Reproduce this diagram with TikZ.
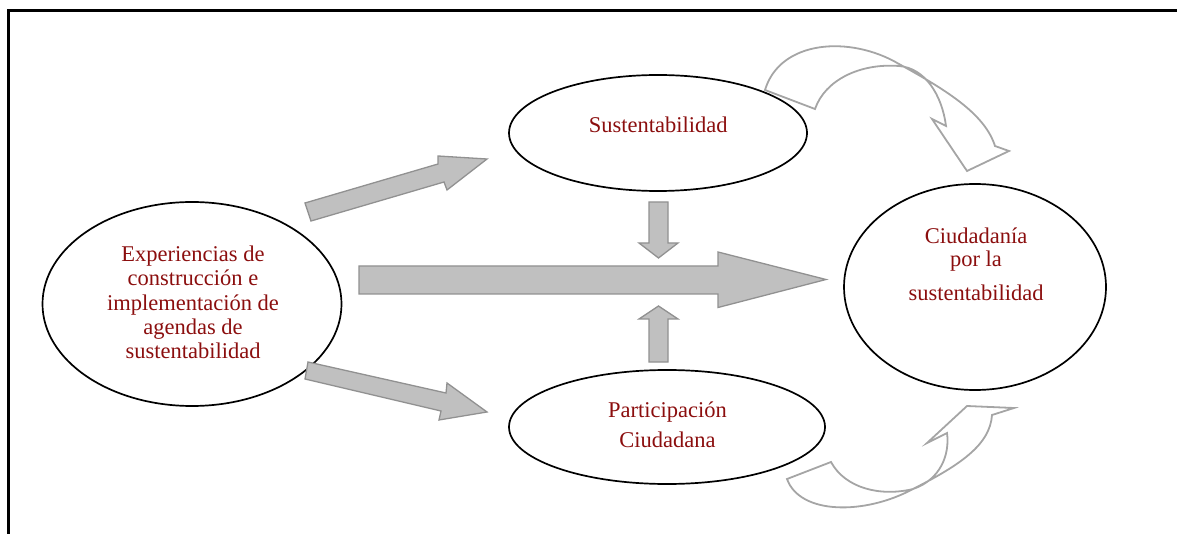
\documentclass[tikz,border=0pt]{standalone}
\usepackage{fontspec}
\setmainfont{Liberation Serif}
\usetikzlibrary{shapes.geometric}
\definecolor{txtred}{RGB}{139,14,14}
\definecolor{blockfill}{RGB}{192,192,192}
\definecolor{blockline}{RGB}{145,145,145}
\definecolor{curveline}{RGB}{165,165,165}
\begin{document}
\begin{tikzpicture}[x=1pt,y=-1pt,
  oval/.style={draw=black, line width=1.7pt, ellipse, inner sep=0pt},
  txt/.style={anchor=base, text=txtred, inner sep=0pt, font=\fontsize{22.5}{24}\selectfont},
  block/.style={fill=blockfill, draw=blockline, line width=1.3pt, line join=miter},
  bent/.style={draw=curveline, line width=1.8pt, line join=miter}]
\path[use as bounding box] (0,0) rectangle (1177,534);
% frame
\draw[line width=3pt, line join=miter] (8.5,540) -- (8.5,10.7) -- (1180,10.7);
% ellipses
\node[oval, minimum width=299pt, minimum height=204pt] (exp) at (192,304) {};
\node[oval, minimum width=298pt, minimum height=116pt] (sus) at (658,133) {};
\node[oval, minimum width=316pt, minimum height=114pt] (par) at (667,427) {};
\node[oval, minimum width=262pt, minimum height=206pt] (ciu) at (975,287) {};
% texts
\node[txt] (exp1) at (193,261.7) {Experiencias de};
\node[txt] (exp2) at (193,285.9) {construcción e};
\node[txt] (exp3) at (193,310.1) {implementación de};
\node[txt] (exp4) at (193,334.3) {agendas de};
\node[txt] (exp5) at (193,358.5) {sustentabilidad};
\node[txt] (sus1) at (658.3,132.3) {Sustentabilidad};
\node[txt] (par1) at (667.5,417) {Participación};
\node[txt] (par2) at (667.5,447) {Ciudadana};
\node[txt] (ciu1) at (976,243.3) {Ciudadanía};
\node[txt] (ciu2) at (976,266.7) {por la};
\node[txt] (ciu3) at (976,301) {sustentabilidad};
% block arrows
\draw[block] (305,203) -- (438,164) -- (438,156) -- (487,159) -- (447,190) -- (444,182) -- (311,221) -- cycle;
\draw[block] (308,362) -- (446,393) -- (447,383) -- (487,412) -- (439,420) -- (441,411) -- (305,379) -- cycle;
\draw[block] (359,266) -- (718,266) -- (718,252) -- (826,279.5) -- (718,307.5) -- (718,294) -- (359,294) -- cycle;
\draw[block] (649,202) -- (668,202) -- (668,243) -- (678,243) -- (658.5,258) -- (639,243) -- (649,243) -- cycle;
\draw[block] (649,362) -- (668,362) -- (668,319) -- (678,319) -- (658.5,306) -- (639,319) -- (649,319) -- cycle;
% curved outline arrows
\draw[bent] (765,90) .. controls (780,40) and (850,35) .. (899,64) .. controls (950,92) and (985,115) .. (995,146)
  -- (1009,151) -- (967,171) -- (932,119) -- (946,126)
  .. controls (942,95) and (925,68) .. (899,66) .. controls (860,63) and (825,80) .. (815,109) -- cycle;
\draw[bent] (787,479) .. controls (800,515) and (865,515) .. (913,489) .. controls (960,465) and (990,445) .. (992,415)
  -- (1014,408) -- (967,406) -- (927,443) -- (947,433)
  .. controls (950,455) and (940,480) .. (913,489) .. controls (880,497) and (845,488) .. (831,462) -- cycle;
\end{tikzpicture}
\end{document}
